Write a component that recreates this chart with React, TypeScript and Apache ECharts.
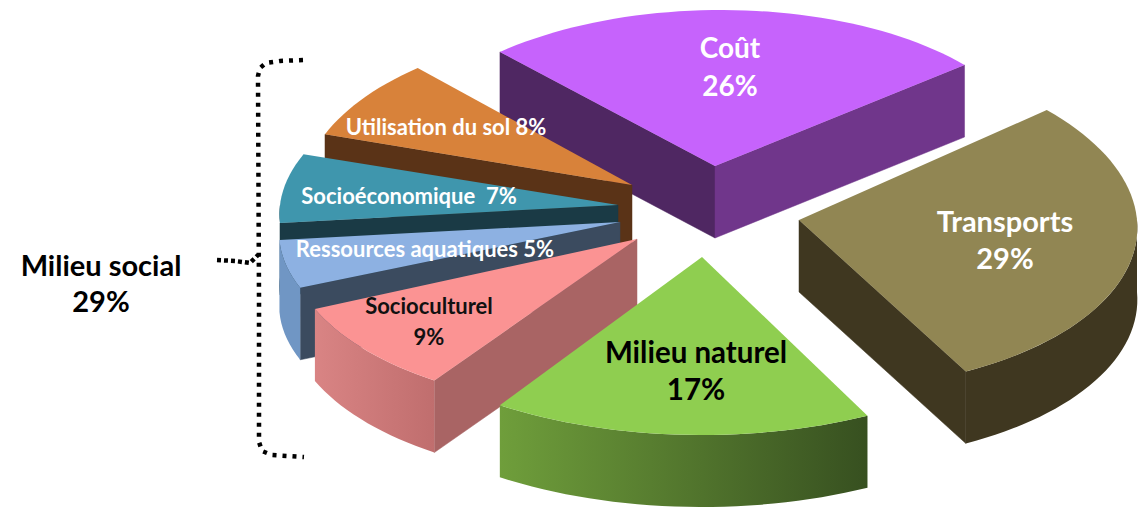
import React, { useEffect, useRef } from "react";
import * as echarts from "echarts";

// ---- data ----
const categories = ["Coût", "Transports", "Milieu naturel", "Socioculturel", "Ressources aquatiques", "Socioéconomique", "Utilisation du sol"];
const shares = [26, 29, 17, 9, 5, 7, 8];
const groupLabel = ["Milieu social", "29%"];

// ---- layout & styles (indexed like categories) ----
const START_ANGLE = 317; // degrees clockwise from 12 o'clock
const apexX = [715, 799, 702, 637, 620, 618, 632];
const apexY = [166, 220, 257, 239, 222, 205, 185];
const radiusX = [322, 338, 365, 348, 340, 338, 328];
const radiusY = [156, 170, 178, 170, 160, 160, 160];
const skew = [-0.04, 0.09, 0, -0.07, -0.15, -0.12, -0.08];
const DEPTH = 72;
const drawOrder = [0, 6, 5, 4, 3, 1, 2];
const topColors = ["#c663fc", "#918653", "#8fce50", "#fb9393", "#8db1e2", "#3f96ad", "#d8823a"];
const startCut = ["#4f2762", "#3f3720", "#3f3720", "#a96464", "#3b4b5f", "#1a3a45", "#5a3317"];
const endCut = ["#70368b", "#3f3720", "#375020", "#a96464", "#3b4b5f", "#1a3a45", "#5a3317"];
const rimFrom = ["#70368b", "#3f3720", "#6f9e3b", "#d98484", "#7096c4", "#1a3a45", "#5a3317"];
const rimTo = ["#70368b", "#3f3720", "#375020", "#c06e6e", "#7096c4", "#1a3a45", "#5a3317"];

const labels = [
  { lines: ["Coût", "26%"], x: 730, y: [47, 85], size: 28, color: "#ffffff" },
  { lines: ["Transports", "29%"], x: 1005, y: [220, 257], size: 29, color: "#ffffff" },
  { lines: ["Milieu naturel", "17%"], x: 696, y: [351, 388], size: 29.5, color: "#000000" },
  { lines: ["Socioculturel", "9%"], x: 429, y: [305, 336], size: 22, color: "#111111" },
  { lines: ["Ressources aquatiques 5%"], x: 425, y: [248], size: 22, color: "#ffffff" },
  { lines: ["Socioéconomique  7%"], x: 409, y: [195], size: 22, color: "#ffffff" },
  { lines: ["Utilisation du sol 8%"], x: 446, y: [126], size: 22, color: "#ffffff" },
];
const FONT = "Lato, 'Open Sans', sans-serif";

const total = shares.reduce((a, b) => a + b, 0);
const startAngles: number[] = [];
shares.reduce((acc, v, i) => {
  startAngles[i] = acc;
  return acc + (v / total) * 360;
}, START_ANGLE);

const rad = (d: number) => (d * Math.PI) / 180;

function arcPoints(i: number, from: number, to: number, dy: number) {
  const pts: number[][] = [];
  const n = Math.max(2, Math.ceil(Math.abs(to - from) / 2));
  for (let k = 0; k <= n; k++) {
    const a = rad(from + ((to - from) * k) / n);
    const oy = -radiusY[i] * Math.cos(a);
    pts.push([apexX[i] + radiusX[i] * Math.sin(a) + skew[i] * oy, apexY[i] + oy + dy]);
  }
  return pts;
}

const renderSlice = (params: any, api: any) => {
  const i = drawOrder[params.dataIndex];
  const value = api.value(1) as number;
  const a0 = startAngles[i];
  const a1 = a0 + (value / total) * 360;
  const apex = [apexX[i], apexY[i]];
  const children: any[] = [];
  const top = arcPoints(i, a0, a1, 0);
  const first = top[0];
  const last = top[top.length - 1];
  const cut = (p: number[], fill: string) => ({
    type: "polygon",
    shape: { points: [apex, p, [p[0], p[1] + DEPTH], [apex[0], apex[1] + DEPTH]] },
    style: { fill, stroke: fill, lineWidth: 0.5 },
  });
  if (Math.sin(rad(a0)) < 0) children.push(cut(first, startCut[i]));
  if (Math.sin(rad(a1)) > 0) children.push(cut(last, endCut[i]));

  // the outer rim is only seen on the near half of the ellipse
  const near: number[][] = [];
  for (const shift of [0, 360]) {
    const lo = Math.max(a0, 90 + shift);
    const hi = Math.min(a1, 270 + shift);
    if (hi > lo) near.push([lo, hi]);
  }
  near.forEach(([lo, hi]) => {
    const rim = arcPoints(i, lo, hi, 0);
    const low = arcPoints(i, hi, lo, DEPTH);
    children.push({
      type: "polygon",
      shape: { points: [...rim, ...low] },
      style: {
        fill: new echarts.graphic.LinearGradient(0, 0, 1, 0, [
          { offset: 0, color: rimFrom[i] },
          { offset: 1, color: rimTo[i] },
        ]),
      },
    });
  });
  children.push({
    type: "polygon",
    shape: { points: [apex, ...top] },
    style: { fill: topColors[i] },
  });
  return { type: "group", children };
};

export default function App() {
  const ref = useRef<HTMLDivElement>(null);
  useEffect(() => {
    const chart = echarts.init(ref.current!, undefined, { renderer: "svg" });
    const texts: any[] = [];
    labels.forEach((l) => {
      l.lines.forEach((line, k) => {
        texts.push({
          type: "text",
          x: l.x,
          y: l.y[k],
          z: 100,
          style: {
            text: line,
            fill: l.color,
            font: `bold ${l.size}px ${FONT}`,
            textAlign: "center",
            textVerticalAlign: "middle",
          },
        });
      });
    });
    groupLabel.forEach((line, k) => {
      texts.push({
        type: "text",
        x: 101,
        y: 264 + k * 36,
        z: 100,
        style: {
          text: line,
          fill: "#000000",
          font: `bold 29px ${FONT}`,
          textAlign: "center",
          textVerticalAlign: "middle",
        },
      });
    });
    const dots = { stroke: "#000000", lineWidth: 4.5, lineDash: [4, 6], fill: "none" };
    chart.setOption({
      animation: false,
      backgroundColor: "#ffffff",
      series: [
        {
          type: "custom",
          coordinateSystem: "none",
          renderItem: renderSlice,
          data: drawOrder.map((i) => ({ name: categories[i], value: [i, shares[i]] })),
          silent: true,
        },
      ],
      graphic: [
        ...texts,
        {
          type: "polyline",
          z: 90,
          shape: { points: [[303, 60], [280, 61], [266, 63], [260, 68], [258, 76], [259, 300], [259, 442], [262, 451], [272, 455], [304, 457]] },
          style: dots,
        },
        {
          type: "polyline",
          z: 90,
          shape: { points: [[217, 260], [235, 261], [250, 263], [258, 255]] },
          style: { ...dots, lineDash: [4, 3] },
        },
      ],
    });
    return () => chart.dispose();
  }, []);
  return <div ref={ref} style={{ position: "fixed", left: 0, top: 0, width: 1138, height: 510 }} />;
}
